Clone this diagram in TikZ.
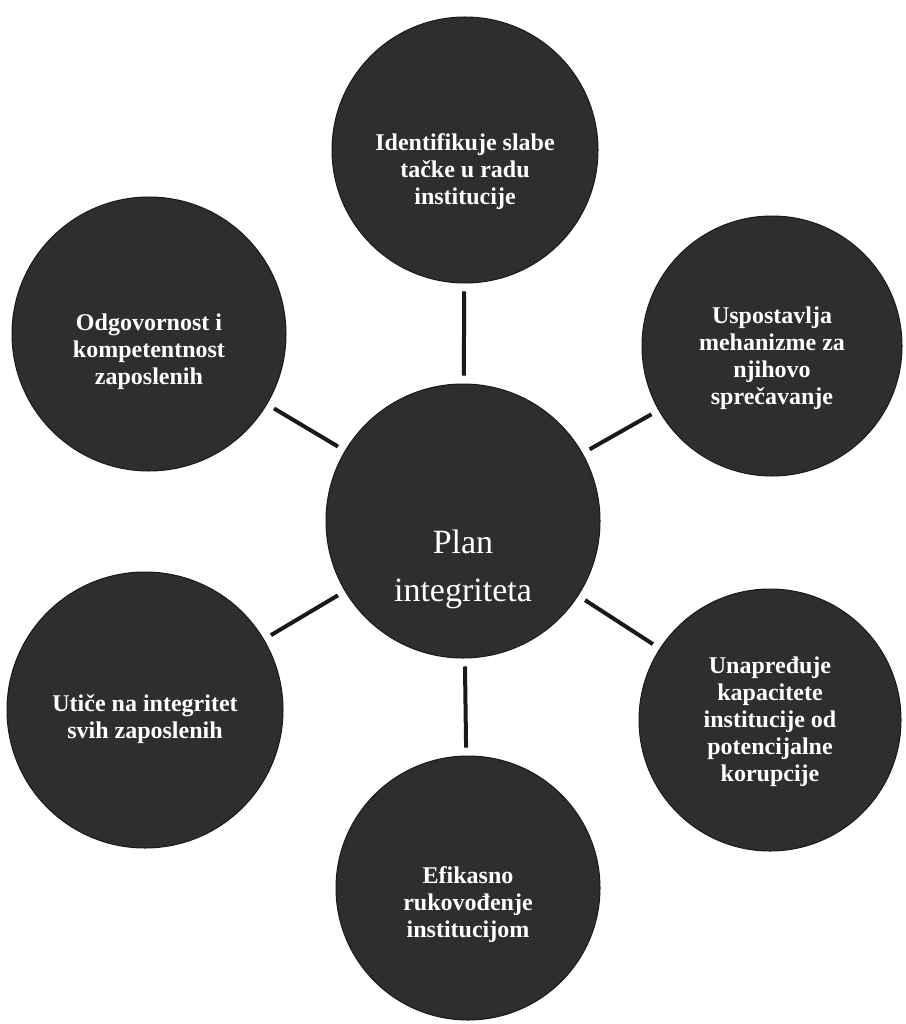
\documentclass[tikz,border=0pt]{standalone}
\usepackage{fontspec}
\setmainfont{Liberation Serif}
\usepackage{tikz}

\begin{document}
\begin{tikzpicture}[x=1pt, y=-1pt,
    blob/.style={circle, fill=black!82, draw=black!90, line width=1pt, minimum size=#1, inner sep=0pt},
    txt/.style={text=white, align=center, font=\fontsize{24}{27}\selectfont\bfseries},
    bigtxt/.style={text=white, align=center, font=\fontsize{34}{48}\selectfont},
    link/.style={line width=4pt, black!90, shorten >=8pt, shorten <=8pt}]
        \fill [white] (0, 0) rectangle (905, 1024);
        \useasboundingbox (0, 0) rectangle (905, 1024);

        % Circles
        \node [blob=274pt, label={[bigtxt, yshift=-48pt]center:{Plan\\integriteta}}] (plan) at (463, 521) {};
        \node [blob=266pt, label={[txt, yshift=-22pt]center:{Identifikuje slabe\\tačke u radu\\institucije}}] (slabe) at (465, 150) {};
        \node [blob=260pt, label={[txt, yshift=-12pt]center:{Uspostavlja\\mehanizme za\\njihovo\\sprečavanje}}] (mehanizmi) at (772, 346) {};
        \node [blob=262pt, label={[txt, yshift=-2pt]center:{Unapređuje\\kapacitete\\institucije od\\potencijalne\\korupcije}}] (kapaciteti) at (770, 720) {};
        \node [blob=264pt, label={[txt, yshift=-17pt]center:{Efikasno\\rukovođenje\\institucijom}}] (rukovodjenje) at (468, 888) {};
        \node [blob=276pt, label={[txt, yshift=-9pt]center:{Utiče na integritet\\svih zaposlenih}}] (utice) at (145, 710) {};
        \node [blob=274pt, label={[txt, yshift=-18pt]center:{Odgovornost i\\kompetentnost\\zaposlenih}}] (odgovornost) at (149, 334) {};

        % Spokes
        \draw [link] (plan) -- (slabe);
        \draw [link] (plan) -- (mehanizmi);
        \draw [link] (plan) -- (kapaciteti);
        \draw [link] (plan) -- (rukovodjenje);
        \draw [link] (plan) -- (utice);
        \draw [link] (plan) -- (odgovornost);
      \end{tikzpicture}
\end{document}
